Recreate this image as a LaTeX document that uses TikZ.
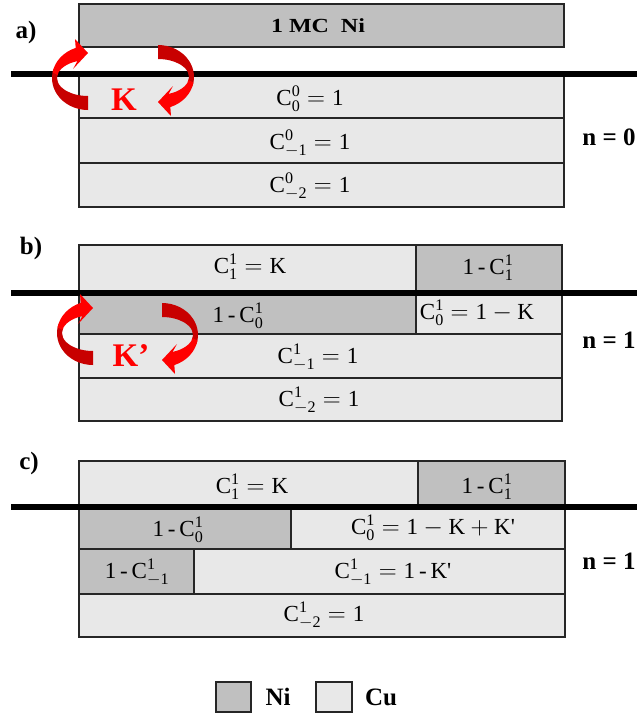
\documentclass[tikz,border=0pt]{standalone}
\usepackage{fontspec}
\usepackage{graphicx}
\setmainfont{Liberation Serif}
\definecolor{nigray}{RGB}{192,192,192}
\definecolor{cugray}{RGB}{232,232,232}
\definecolor{arrdark}{RGB}{200,0,0}
\definecolor{arrbright}{RGB}{255,0,0}
\newcommand{\Cc}[2]{\mathrm{C}^{\mathrm{#1}}_{\mathrm{#2}}}
\newcommand{\one}{\mathrm{1}}
\tikzset{
  ni/.style={draw=black!85, line width=1.1pt, fill=nigray},
  cu/.style={draw=black!85, line width=1.1pt, fill=cugray},
  txt/.style={inner sep=0pt, font=\fontsize{23}{27}\selectfont},
  lab/.style={inner sep=0pt, font=\fontsize{25}{29}\selectfont\bfseries},
  redlab/.style={inner sep=0pt, text=arrbright, font=\fontsize{33}{36}\selectfont\bfseries},
  surface/.style={line width=6pt, draw=black},
  swirl/.pic={
    \fill[arrdark] (90:36 and 32) arc[start angle=90,end angle=196,x radius=36,y radius=32]
      -- (196:31 and 18) arc[start angle=196,end angle=90,x radius=31,y radius=18] -- cycle;
    \fill[arrbright] (190:36 and 32) arc[start angle=190,end angle=250,x radius=36,y radius=32]
      -- (-13,-39) -- (0,-25) -- (-15,-9)
      -- (250:31 and 18) arc[start angle=250,end angle=190,x radius=31,y radius=18] -- cycle;
  }
}
\begin{document}
\begin{tikzpicture}[x=1pt,y=-1pt]
\useasboundingbox (0,0) rectangle (637,715);
\fill[white] (0,0) rectangle (637,715);

% ---------- panel a ----------
\draw[ni] (79,4) rectangle (564,47);
\draw[cu] (79,74) rectangle (564,118);
\draw[cu] (79,118) rectangle (564,163);
\draw[cu] (79,163) rectangle (564,207);
\draw[surface] (11,74) -- (637,74);
\node[inner sep=0pt, font=\fontsize{20}{24}\selectfont\bfseries] (mc) at (318,26) {\scalebox{1.2}[1]{1 MC\ \ Ni}};
\node[txt] (a0) at (310,99) {$\Cc{0}{0} = \one$};
\node[txt] (a1) at (310,143) {$\Cc{0}{-1} = \one$};
\node[txt] (a2) at (310,186) {$\Cc{0}{-2} = \one$};
\node[lab] (la) at (26,32) {a)};
\node[lab] (na) at (609,137) {n = 0};
\pic at (88,78) {swirl};
\pic[rotate=180] at (158,77) {swirl};
\node[redlab] (ka) at (124,100) {K};

% ---------- panel b ----------
\draw[cu] (79,245) rectangle (416,293);
\draw[ni] (416,245) rectangle (562,293);
\draw[ni] (79,293) rectangle (416,334);
\draw[cu] (416,293) rectangle (562,334);
\draw[cu] (79,334) rectangle (562,378);
\draw[cu] (79,378) rectangle (562,421);
\draw[surface] (11,293) -- (637,293);
\node[txt] (b1) at (250,267) {$\Cc{1}{1} = \mathrm{K}$};
\node[txt] (b2) at (488,268) {1\,-\,$\Cc{1}{1}$};
\node[txt] (b3) at (238,316) {1\,-\,$\Cc{1}{0}$};
\node[txt] (b4) at (477,313) {$\Cc{1}{0} = \one - \mathrm{K}$};
\node[txt] (b5) at (318,357) {$\Cc{1}{-1} = \one$};
\node[txt] (b6) at (319,400) {$\Cc{1}{-2} = \one$};
\node[lab] (lb) at (31,248) {b)};
\node[lab] (nb) at (609,340) {n = 1};
\pic at (93,333) {swirl};
\pic[rotate=180] at (162,335) {swirl};
\node[redlab] (kb) at (131,356) {K’};

% ---------- panel c ----------
\draw[cu] (79,461) rectangle (418,507);
\draw[ni] (418,461) rectangle (565,507);
\draw[ni] (79,507) rectangle (291,549);
\draw[cu] (291,507) rectangle (565,549);
\draw[ni] (79,549) rectangle (194,594);
\draw[cu] (194,549) rectangle (565,594);
\draw[cu] (79,594) rectangle (565,637);
\draw[surface] (11,507) -- (637,507);
\node[txt] (c1) at (252,487) {$\Cc{1}{1} = \mathrm{K}$};
\node[txt] (c2) at (487,487) {1\,-\,$\Cc{1}{1}$};
\node[txt] (c3) at (178,530) {1\,-\,$\Cc{1}{0}$};
\node[txt] (c4) at (433,528) {$\Cc{1}{0} = \one - \mathrm{K} + \mathrm{K}$\textquotesingle};
\node[txt] (c5) at (137,572) {1\,-\,$\Cc{1}{-1}$};
\node[txt] (c6) at (393,572) {$\Cc{1}{-1} = \one$\,-\,K\textquotesingle};
\node[txt] (c7) at (324,615) {$\Cc{1}{-2} = \one$};
\node[lab] (lc) at (29,463) {c)};
\node[lab] (nc) at (609,561) {n = 1};

% ---------- legend ----------
\draw[ni] (216,682) rectangle (251,712);
\node[lab] (lni) at (278,697) {Ni};
\draw[cu] (316,682) rectangle (352,712);
\node[lab] (lcu) at (381,697) {Cu};
\end{tikzpicture}
\end{document}
